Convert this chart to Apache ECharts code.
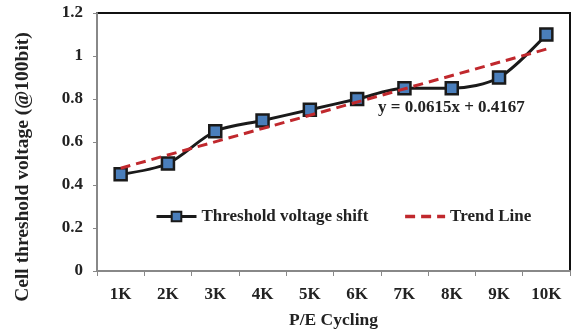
<!DOCTYPE html>
<html>
<head>
<meta charset="utf-8">
<script src="https://cdn.jsdelivr.net/npm/echarts@6/dist/echarts.min.js"></script>
<style>
  html, body { margin: 0; padding: 0; background: #fff; }
  #main { width: 579px; height: 331px; }
</style>
</head>
<body>
<div id="main"></div>
<script>
var categories = ['1K', '2K', '3K', '4K', '5K', '6K', '7K', '8K', '9K', '10K'];
var shiftValues = [0.45, 0.5, 0.65, 0.7, 0.75, 0.8, 0.85, 0.85, 0.9, 1.1];
// trend line end points, as printed in the figure
var trendPoints = [['1K', 0.478], ['10K', 1.032]];
var yTicks = [0, 0.2, 0.4, 0.6, 0.8, 1, 1.2];

var chartDom = document.getElementById('main');
var myChart = echarts.init(chartDom);
var option;

var font = 'Liberation Serif';

option = {
    animation: false,
    grid: {
        left: 97,
        right: 9,
        top: 13,
        bottom: 60,
        outerBoundsMode: 'none',
        show: true,
        borderColor: '#111',
        borderWidth: 2
    },
    legend: {
        left: 155,
        top: 208,
        padding: 0,
        itemWidth: 40,
        itemHeight: 12,
        itemGap: 35,
        textStyle: {
            fontFamily: font,
            fontWeight: 'bold',
            fontSize: 17,
            color: '#222'
        },
        data: [
            { name: 'Threshold voltage shift', lineStyle: { width: 3 } },
            { name: 'Trend Line', itemStyle: { opacity: 0 }, lineStyle: { width: 3.5 } }
        ]
    },
    xAxis: {
        type: 'category',
        data: categories,
        name: 'P/E Cycling',
        nameLocation: 'middle',
        nameGap: 40,
        nameTextStyle: {
            fontFamily: font,
            fontWeight: 'bold',
            fontSize: 17.5,
            color: '#222'
        },
        axisLine: { lineStyle: { color: '#888', width: 2 } },
        axisTick: { show: true, length: 5, lineStyle: { color: '#888' } },
        axisLabel: {
            margin: 15,
            fontFamily: font,
            fontWeight: 'bold',
            fontSize: 17,
            color: '#222'
        },
        splitLine: { show: false }
    },
    yAxis: {
        type: 'value',
        min: yTicks[0],
        max: yTicks[yTicks.length - 1],
        interval: 0.2,
        axisLine: { show: true, lineStyle: { color: '#888', width: 2 } },
        axisTick: { show: true, length: 4, lineStyle: { color: '#888' } },
        axisLabel: {
            margin: 14,
            fontFamily: font,
            fontWeight: 'bold',
            fontSize: 17,
            color: '#222'
        },
        splitLine: { show: false }
    },
    graphic: [{
        type: 'text',
        left: 378,
        top: 99,
        style: {
            text: 'y = 0.0615x + 0.4167',
            fontFamily: font,
            fontWeight: 'bold',
            fontSize: 17,
            fill: '#222'
        }
    }, {
        // y axis title sits a bit below the plot centre in the original
        type: 'text',
        x: 23,
        y: 167,
        rotation: Math.PI / 2,
        style: {
            text: 'Cell threshold voltage (@100bit)',
            fontFamily: font,
            fontWeight: 'bold',
            fontSize: 19.5,
            fill: '#222',
            align: 'center',
            verticalAlign: 'middle'
        }
    }],
    series: [
        {
            name: 'Trend Line',
            type: 'line',
            data: trendPoints,
            symbol: 'none',
            z: 3,
            lineStyle: { color: '#C0282D', width: 3, type: [10, 6] },
            itemStyle: { color: '#C0282D' }
        },
        {
            name: 'Threshold voltage shift',
            type: 'line',
            data: shiftValues,
            smooth: 0.3,
            symbol: 'rect',
            symbolSize: 12,
            z: 2,
            lineStyle: { color: '#1a1a1a', width: 3 },
            itemStyle: { color: '#4A7EBB', borderColor: '#1a1a1a', borderWidth: 2.5 }
        }
    ]
};

option && myChart.setOption(option);
</script>
</body>
</html>
